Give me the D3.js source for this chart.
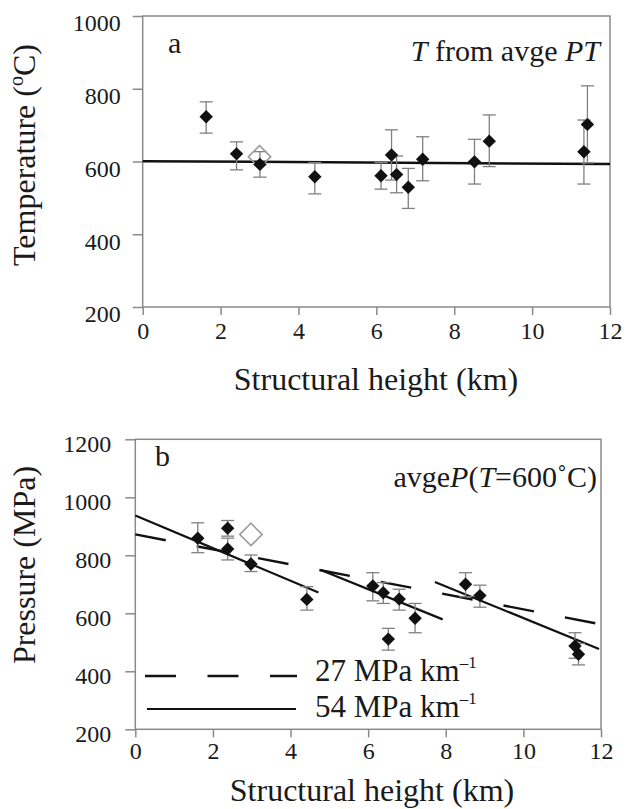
<!DOCTYPE html>
<html>
<head>
<meta charset="utf-8">
<script src="https://cdn.jsdelivr.net/npm/d3@7"></script>
<style>
  body { margin: 0; background: #fff; }
  svg { display: block; }
</style>
</head>
<body>
<svg id="chart"></svg>
<script>
const width = 633;
const height = 809;

// panel a: temperature vs structural height
const tempKm = [1.63, 2.41, 3.01, 4.42, 6.12, 6.39, 6.52, 6.82, 7.19, 8.52, 8.9, 11.33, 11.42];
const tempC  = [723, 621, 592, 558, 561, 618, 564, 529, 606, 599, 656, 627, 702];
const tempHi = [764, 654, 627, 597, 597, 687, 615, 581, 668, 661, 728, 714, 808];
const tempLo = [678, 577, 557, 511, 524, 549, 514, 471, 547, 538, 586, 538, 596];
const tempOpen = [[3.0, 613]];
const tempFit = [[0, 601], [12, 593]];

// panel b: pressure vs structural height
const presKm  = [1.61, 2.38, 2.38, 2.98, 4.42, 6.12, 6.39, 6.52, 6.8, 7.21, 8.51, 8.88, 11.33, 11.42];
const presMPa = [859, 893, 822, 770, 648, 694, 671, 511, 649, 583, 700, 661, 487, 459];
const presHi  = [912, 920, 859, 801, 692, 740, 706, 548, 683, 634, 740, 697, 533, 496];
const presLo  = [809, 866, 784, 744, 611, 643, 634, 473, 611, 533, 657, 621, 445, 422];
const presOpen = [[2.98, 872]];
const grad27 = [[0, 872], [12, 562]];
const grad54 = [
  [[0, 937], [4.72, 672]],
  [[4.78, 749], [7.92, 579]],
  [[7.72, 708], [11.95, 477]]
];

const kmTicks = [0, 2, 4, 6, 8, 10, 12];
const tempTicks = [200, 400, 600, 800, 1000];
const presTicks = [200, 400, 600, 800, 1000, 1200];

const serif = '"Liberation Serif", "Times New Roman", serif';

const svg = d3.select('#chart')
  .attr('width', width)
  .attr('height', height)
  .style('font-family', serif);

svg.append('rect')
  .attr('width', width)
  .attr('height', height)
  .attr('fill', '#fff');

const grey = '#8a8a8a';

function panel(opt) {
  const g = svg.append('g');

  const x = d3.scaleLinear().domain([0, 12]).range([opt.left, opt.right]);
  const y = d3.scaleLinear().domain(opt.yDomain).range([opt.bottom, opt.top]);

  // axes
  const xAxis = g.append('g')
    .attr('transform', 'translate(0,' + opt.bottom + ')')
    .call(d3.axisBottom(x).tickValues(kmTicks).tickFormat(d3.format('d'))
      .tickSize(8).tickPadding(opt.xPad).tickSizeOuter(0));

  const yAxis = g.append('g')
    .attr('transform', 'translate(' + opt.left + ',0)')
    .call(d3.axisLeft(y).tickValues(opt.yTicks).tickFormat(d3.format('d'))
      .tickSize(10).tickPadding(opt.yPad).tickSizeOuter(0));

  [xAxis, yAxis].forEach(a => {
    a.attr('font-family', null).attr('font-size', 24);
    a.select('.domain').remove();
    a.selectAll('.tick line').attr('stroke', grey).attr('stroke-width', 1.5);
    a.selectAll('.tick text').attr('fill', '#1a1a1a');
  });
  yAxis.selectAll('.tick text').attr('dy', opt.yDy);

  // frame
  g.append('rect')
    .attr('x', opt.left)
    .attr('y', opt.top)
    .attr('width', opt.right - opt.left)
    .attr('height', opt.bottom - opt.top)
    .attr('fill', 'none')
    .attr('stroke', grey)
    .attr('stroke-width', 1.5);

  // titles
  g.append('text')
    .attr('x', opt.xTitleX)
    .attr('y', opt.xTitleY)
    .attr('text-anchor', 'middle')
    .attr('font-size', 32)
    .text('Structural height (km)');

  const yt = g.append('text')
    .attr('transform', 'translate(35,' + opt.yTitleY + ') rotate(-90)')
    .attr('text-anchor', 'middle')
    .attr('font-size', 32);
  opt.yTitle(yt);

  return { g, x, y };
}

function errorBars(p, km, hi, lo) {
  const bars = p.g.append('g')
    .attr('stroke', '#808080')
    .attr('stroke-width', 1.3)
    .selectAll('g')
    .data(km)
    .enter()
    .append('g');
  bars.append('line')
    .attr('x1', d => p.x(d)).attr('x2', d => p.x(d))
    .attr('y1', (d, i) => p.y(hi[i])).attr('y2', (d, i) => p.y(lo[i]));
  bars.append('line')
    .attr('x1', d => p.x(d) - 6.5).attr('x2', d => p.x(d) + 6.5)
    .attr('y1', (d, i) => p.y(hi[i])).attr('y2', (d, i) => p.y(hi[i]));
  bars.append('line')
    .attr('x1', d => p.x(d) - 6.5).attr('x2', d => p.x(d) + 6.5)
    .attr('y1', (d, i) => p.y(lo[i])).attr('y2', (d, i) => p.y(lo[i]));
}

function diamonds(p, km, vals) {
  p.g.append('g')
    .selectAll('path')
    .data(km)
    .enter()
    .append('path')
    .attr('d', d3.symbol(d3.symbolSquare, 90))
    .attr('transform', (d, i) => 'translate(' + p.x(d) + ',' + p.y(vals[i]) + ') rotate(45)')
    .attr('fill', '#111');
}

function openDiamond(p, pts) {
  p.g.append('g')
    .selectAll('path')
    .data(pts)
    .enter()
    .append('path')
    .attr('d', d3.symbol(d3.symbolSquare, 250))
    .attr('transform', d => 'translate(' + p.x(d[0]) + ',' + p.y(d[1]) + ') rotate(45)')
    .attr('fill', 'none')
    .attr('stroke', '#9a9a9a')
    .attr('stroke-width', 1.6);
}

// ---------- panel a ----------
const a = panel({
  left: 142.7, right: 610, top: 16, bottom: 307,
  yDomain: [200, 1000], yTicks: tempTicks,
  xPad: 7, yPad: 12, yDy: '0.62em',
  xTitleX: 376, xTitleY: 390, yTitleY: 155,
  yTitle: t => {
    t.append('tspan').text('Temperature (');
    t.append('tspan').attr('font-size', 20).attr('dy', -12).text('o');
    t.append('tspan').attr('dy', 12).text('C)');
  }
});

const line = d3.line().x(d => a.x(d[0])).y(d => a.y(d[1]));

a.g.append('path')
  .attr('d', line(tempFit))
  .attr('fill', 'none')
  .attr('stroke', '#111')
  .attr('stroke-width', 2.5);

errorBars(a, tempKm, tempHi, tempLo);
openDiamond(a, tempOpen);
diamonds(a, tempKm, tempC);

a.g.append('text')
  .attr('x', 168).attr('y', 53)
  .attr('font-size', 30)
  .text('a');

const aLabel = a.g.append('text')
  .attr('x', 600).attr('y', 61)
  .attr('text-anchor', 'end')
  .attr('font-size', 30);
aLabel.append('tspan').attr('font-style', 'italic').text('T');
aLabel.append('tspan').text(' from avge ');
aLabel.append('tspan').attr('font-style', 'italic').text('PT');

// ---------- panel b ----------
const b = panel({
  left: 135.3, right: 601, top: 439.3, bottom: 729.3,
  yDomain: [200, 1200], yTicks: presTicks,
  xPad: 5, yPad: 14, yDy: '0.5em',
  xTitleX: 372, xTitleY: 801, yTitleY: 565,
  yTitle: t => t.text('Pressure (MPa)')
});

const lineB = d3.line().x(d => b.x(d[0])).y(d => b.y(d[1]));

b.g.append('path')
  .attr('d', lineB(grad27))
  .attr('fill', 'none')
  .attr('stroke', '#111')
  .attr('stroke-width', 2.4)
  .attr('stroke-dasharray', '31,31.5');

b.g.append('g')
  .selectAll('path')
  .data(grad54)
  .enter()
  .append('path')
  .attr('d', d => lineB(d))
  .attr('fill', 'none')
  .attr('stroke', '#111')
  .attr('stroke-width', 2.2);

errorBars(b, presKm, presHi, presLo);
openDiamond(b, presOpen);
diamonds(b, presKm, presMPa);

b.g.append('text')
  .attr('x', 155).attr('y', 466)
  .attr('font-size', 30)
  .text('b');

const bLabel = b.g.append('text')
  .attr('x', 597).attr('y', 487)
  .attr('text-anchor', 'end')
  .attr('font-size', 30);
bLabel.append('tspan').text('avge');
bLabel.append('tspan').attr('font-style', 'italic').text('P');
bLabel.append('tspan').text('(');
bLabel.append('tspan').attr('font-style', 'italic').text('T');
bLabel.append('tspan').text('=600\u02daC)');

// legend
const legend = b.g.append('g');
legend.append('line')
  .attr('x1', 145).attr('x2', 297).attr('y1', 676).attr('y2', 676)
  .attr('stroke', '#111').attr('stroke-width', 2.4)
  .attr('stroke-dasharray', '31,31.5');
legend.append('line')
  .attr('x1', 147).attr('x2', 296).attr('y1', 709).attr('y2', 709)
  .attr('stroke', '#111').attr('stroke-width', 2.2);

[['27 MPa km', 681], ['54 MPa km', 717]].forEach(l => {
  const t = legend.append('text')
    .attr('x', 315).attr('y', l[1])
    .attr('font-size', 31);
  t.append('tspan').text(l[0]);
  t.append('tspan').attr('font-size', 17).attr('dy', -13).text('\u2013' + '1');
});

svg.selectAll('text')
  .style('font-family', serif)
  .attr('fill', '#1a1a1a');
</script>
</body>
</html>
